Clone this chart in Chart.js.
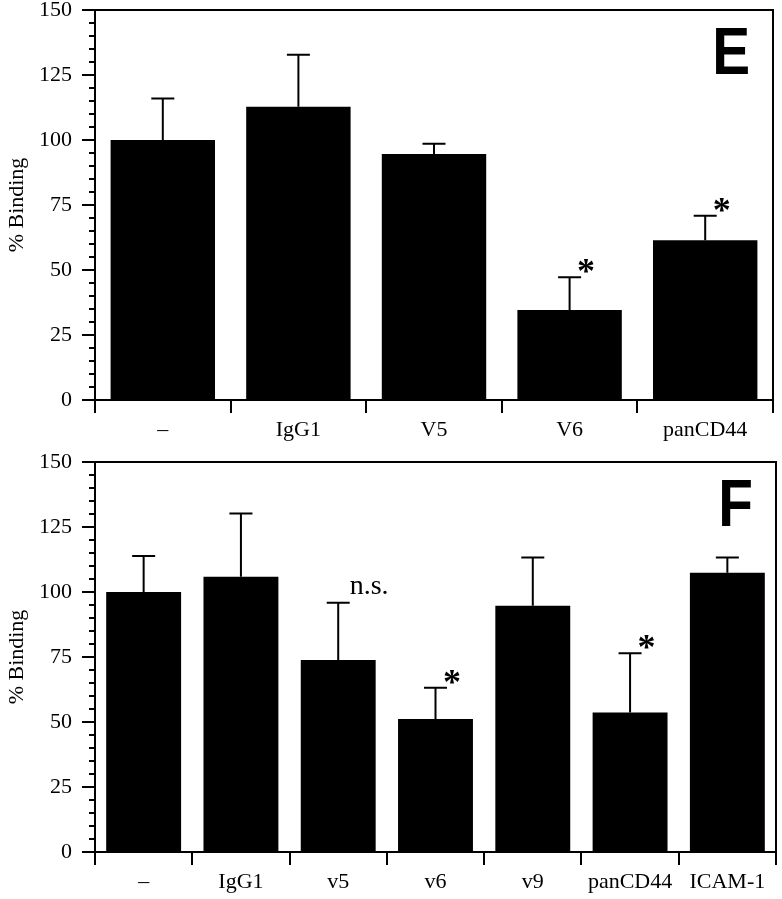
<!DOCTYPE html>
<html lang="en">
<head>
    <meta charset="utf-8" />
    <title>% Binding E / F</title>
    <script src="https://cdn.jsdelivr.net/npm/chart.js"></script>
    <style>
        body { margin: 0; background: #fff; }
        canvas { display: block; }
    </style>
</head>
<body>
    <canvas id="chartE" width="782" height="450"></canvas>
    <canvas id="chartF" width="782" height="449"></canvas>

    <script>
        // panel E
        var categoriesE = ['\u2013', 'IgG1', 'V5', 'V6', 'panCD44'];
        var bindingE = [100, 112.8, 94.6, 34.6, 61.4];
        var errorE = [16, 20, 4, 12.6, 9.5];
        var marksE = ['', '', '', '*', '*'];

        // panel F
        var categoriesF = ['\u2013', 'IgG1', 'v5', 'v6', 'v9', 'panCD44', 'ICAM-1'];
        var bindingF = [100, 105.9, 73.8, 51.2, 94.7, 53.7, 107.4];
        var errorF = [13.8, 24.3, 22.1, 12, 18.6, 22.7, 5.9];
        var marksF = ['', '', 'n.s.', '*', '', '*', ''];

        var yTicks = [0, 25, 50, 75, 100, 125, 150];

        var serif = "'Liberation Serif', 'Times New Roman', serif";
        Chart.defaults.font.family = serif;
        Chart.defaults.color = '#000';

        // error bars, minor ticks, frame, annotations and panel letter
        function panelPlugin(letter, errors, marks) {
            return {
                id: 'panel' + letter,
                afterDatasetsDraw: function(chart) {
                    var ctx = chart.ctx;
                    var area = chart.chartArea;
                    var y = chart.scales.y;
                    var ds = chart.data.datasets[0].data;
                    var meta = chart.getDatasetMeta(0);
                    ctx.save();
                    ctx.strokeStyle = '#000';
                    ctx.fillStyle = '#000';
                    ctx.lineWidth = 2;

                    // frame on top and right
                    ctx.beginPath();
                    ctx.moveTo(area.left, area.top);
                    ctx.lineTo(area.right, area.top);
                    ctx.lineTo(area.right, area.bottom);
                    ctx.stroke();

                    // minor ticks on y axis
                    for (var v = y.min; v <= y.max; v += 5) {
                        if (v % 25 === 0) continue;
                        var py = y.getPixelForValue(v);
                        ctx.beginPath();
                        ctx.moveTo(area.left - 6, py);
                        ctx.lineTo(area.left, py);
                        ctx.stroke();
                    }

                    for (var i = 0; i < ds.length; i++) {
                        var bx = meta.data[i].x;
                        var top = y.getPixelForValue(ds[i]);
                        var capY = y.getPixelForValue(ds[i] + errors[i]);
                        ctx.beginPath();
                        ctx.moveTo(bx, top);
                        ctx.lineTo(bx, capY);
                        ctx.moveTo(bx - 11.5, capY);
                        ctx.lineTo(bx + 11.5, capY);
                        ctx.stroke();

                        if (marks[i]) {
                            var isStar = marks[i] === '*';
                            ctx.font = (isStar ? 'bold 36px ' : '28px ') + serif;
                            ctx.textAlign = 'left';
                            ctx.textBaseline = 'alphabetic';
                            var m = ctx.measureText(marks[i]);
                            var tx = bx + 11.5 + m.actualBoundingBoxLeft - (isStar ? 3 : 0);
                            var ty = capY - (isStar ? 4 : 9) - m.actualBoundingBoxDescent;
                            ctx.fillText(marks[i], tx, ty);
                        }
                    }

                    // panel letter
                    ctx.font = "bold 66px 'Liberation Sans', Arial, sans-serif";
                    ctx.textAlign = 'right';
                    ctx.textBaseline = 'alphabetic';
                    ctx.translate(area.right - 23, area.top + 64);
                    ctx.scale(0.86, 1);
                    ctx.fillText(letter, 0, 0);
                    ctx.restore();
                }
            };
        }

        function makeChart(id, letter, labels, values, errors, marks, pad, xHeight) {
            var ctx = document.getElementById(id).getContext('2d');
            return new Chart(ctx, {
                type: 'bar',
                data: {
                    labels: labels,
                    datasets: [{
                        data: values,
                        backgroundColor: '#000',
                        borderWidth: 0,
                        barPercentage: 0.77,
                        categoryPercentage: 1
                    }]
                },
                options: {
                    responsive: false,
                    animation: false,
                    devicePixelRatio: 1,
                    layout: { padding: pad },
                    plugins: {
                        legend: { display: false },
                        tooltip: { enabled: false }
                    },
                    scales: {
                        x: {
                            offset: true,
                            grid: {
                                offset: true,
                                drawOnChartArea: false,
                                tickLength: 13,
                                lineWidth: 2,
                                color: '#000'
                            },
                            border: { display: true, color: '#000', width: 2 },
                            ticks: {
                                font: { size: 22 },
                                color: '#000',
                                maxRotation: 0,
                                autoSkip: false,
                                padding: 4
                            },
                            afterFit: function(scale) {
                                scale.height = xHeight;
                                scale.paddingLeft = 0;
                                scale.paddingRight = 0;
                            }
                        },
                        y: {
                            min: 0,
                            max: 150,
                            afterBuildTicks: function(scale) {
                                scale.ticks = yTicks.map(function(v) { return { value: v }; });
                            },
                            grid: {
                                drawOnChartArea: false,
                                tickLength: 13,
                                lineWidth: 2,
                                color: '#000'
                            },
                            border: { display: true, color: '#000', width: 2 },
                            ticks: {
                                font: { size: 22 },
                                color: '#000',
                                padding: 10
                            },
                            title: {
                                display: true,
                                text: '% Binding',
                                font: { size: 22 },
                                color: '#000',
                                padding: { top: 4, bottom: 4 }
                            },
                            afterFit: function(scale) {
                                scale.width = 95;
                                scale.paddingTop = 0;
                                scale.paddingBottom = 0;
                            }
                        }
                    }
                },
                plugins: [panelPlugin(letter, errors, marks)]
            });
        }

        makeChart('chartE', 'E', categoriesE, bindingE, errorE, marksE,
            { top: 10, right: 9, left: 0, bottom: 0 }, 50);
        makeChart('chartF', 'F', categoriesF, bindingF, errorF, marksF,
            { top: 12, right: 6, left: 0, bottom: 0 }, 47);
    </script>
</body>
</html>
